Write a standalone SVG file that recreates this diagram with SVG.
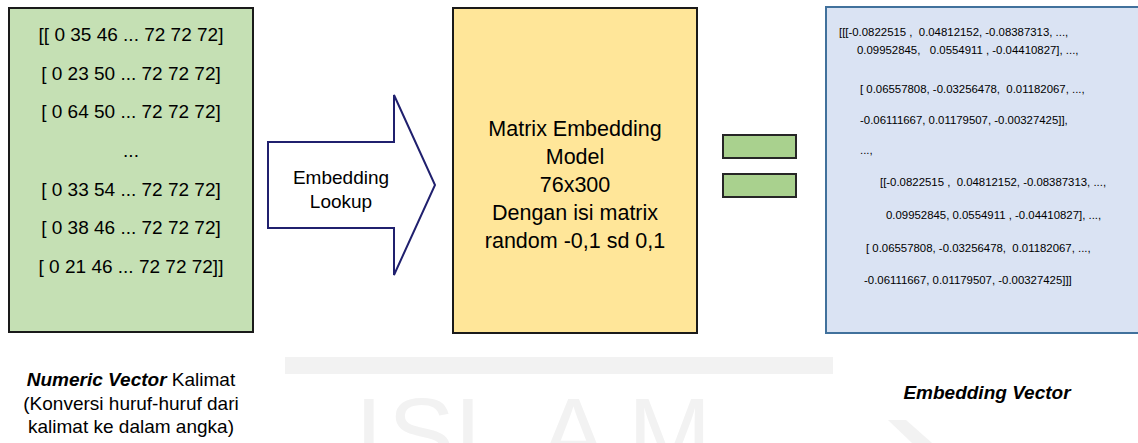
<svg xmlns="http://www.w3.org/2000/svg" width="1138" height="443" viewBox="0 0 1138 443">
  <style>
    text { font-family: "Liberation Sans", Arial, sans-serif; fill: #000; }
    .box { stroke: #1a1a1a; stroke-width: 2; }
    .green { fill: #C5E0B4; }
    .yellow { fill: #FFE699; }
    .blue { fill: #DAE3F3; stroke: #41719C; stroke-width: 2; }
    .eq { fill: #A9D18E; stroke: #262626; stroke-width: 2; }
    .mid { text-anchor: middle; }
    .g { font-size: 19px; }
    .y { font-size: 21.5px; }
    .v { font-size: 11.4px; }
    .cap { font-size: 19px; }
    .wm { fill: #f2f2f2; }
  </style>

  <!-- faint background watermark -->
  <g id="watermark">
    <rect class="wm" x="285" y="357" width="548" height="17"/>
    <polygon class="wm" points="888,420 906,420 932,443 912,443"/>
    <text x="355 388 455 540 628" y="468" font-size="100" style="fill:#f2f2f2">ISLAM</text>
  </g>

  <!-- input: numeric vector of the sentence -->
  <g id="numeric-vector">
    <rect class="box green" x="9" y="8" width="244" height="324"/>
    <text class="g mid" x="131" y="41">[[ 0 35 46 ... 72 72 72]</text>
    <text class="g mid" x="131" y="80">[ 0 23 50 ... 72 72 72]</text>
    <text class="g mid" x="131" y="118">[ 0 64 50 ... 72 72 72]</text>
    <text class="g mid" x="131" y="157">...</text>
    <text class="g mid" x="131" y="196">[ 0 33 54 ... 72 72 72]</text>
    <text class="g mid" x="131" y="234">[ 0 38 46 ... 72 72 72]</text>
    <text class="g mid" x="131" y="273">[ 0 21 46 ... 72 72 72]]</text>
  </g>

  <!-- block arrow: embedding lookup -->
  <g id="embedding-lookup">
    <polygon points="268,142 394,142 394,95 435,185 394,275 394,228 268,228" fill="#fff" stroke="#20206E" stroke-width="2"/>
    <text class="g mid" x="341" y="184">Embedding</text>
    <text class="g mid" x="341" y="208">Lookup</text>
  </g>

  <!-- embedding matrix model -->
  <g id="matrix-model">
    <rect class="box yellow" x="453" y="8" width="244" height="325"/>
    <text class="y mid" x="575" y="136">Matrix Embedding</text>
    <text class="y mid" x="575" y="164">Model</text>
    <text class="y mid" x="575" y="192">76x300</text>
    <text class="y mid" x="575" y="220">Dengan isi matrix</text>
    <text class="y mid" x="575" y="248">random -0,1 sd 0,1</text>
  </g>

  <!-- equals sign -->
  <g id="equals">
    <rect class="eq" x="723" y="135" width="73" height="23"/>
    <rect class="eq" x="723" y="174" width="73" height="23"/>
  </g>

  <!-- output: embedding vector values -->
  <g id="embedding-values">
    <rect class="blue" x="826" y="7" width="330" height="326"/>
    <text class="v" x="839" y="36" xml:space="preserve">[[[-0.0822515 ,  0.04812152, -0.08387313, ...,</text>
    <text class="v" x="857" y="54" xml:space="preserve">0.09952845,   0.0554911 , -0.04410827], ...,</text>
    <text class="v" x="860" y="93" xml:space="preserve">[ 0.06557808, -0.03256478,  0.01182067, ...,</text>
    <text class="v" x="860" y="124">-0.06111667, 0.01179507, -0.00327425]],</text>
    <text class="v" x="860" y="154">...,</text>
    <text class="v" x="880" y="186" xml:space="preserve">[[-0.0822515 ,  0.04812152, -0.08387313, ...,</text>
    <text class="v" x="886" y="219">0.09952845, 0.0554911 , -0.04410827], ...,</text>
    <text class="v" x="866" y="252" xml:space="preserve">[ 0.06557808, -0.03256478,  0.01182067, ...,</text>
    <text class="v" x="864" y="284">-0.06111667, 0.01179507, -0.00327425]]]</text>
  </g>

  <!-- captions -->
  <g id="caption-input">
    <text class="cap mid" x="131" y="386"><tspan font-weight="bold" font-style="italic">Numeric Vector</tspan> Kalimat</text>
    <text class="cap mid" x="131" y="410">(Konversi huruf-huruf dari</text>
    <text class="cap mid" x="131" y="433">kalimat ke dalam angka)</text>
  </g>
  <g id="caption-output">
    <text class="cap mid" x="987" y="399" font-weight="bold" font-style="italic">Embedding Vector</text>
  </g>
</svg>
